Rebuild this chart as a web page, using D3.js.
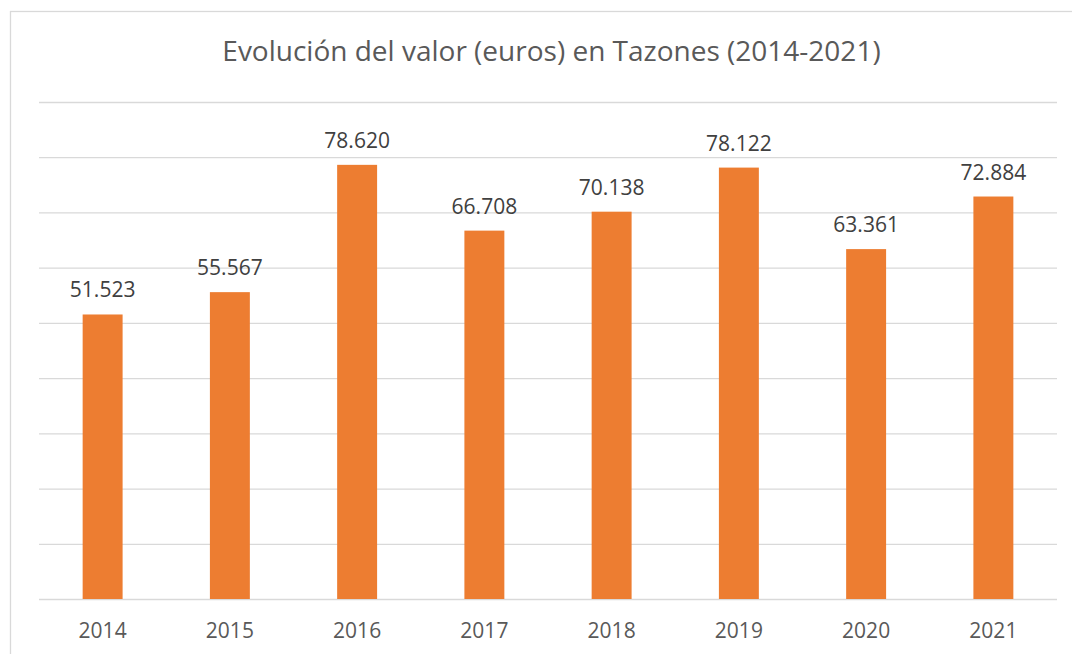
<!DOCTYPE html>
<html>
<head>
<meta charset="utf-8">
<script src="https://cdn.jsdelivr.net/npm/d3@7"></script>
<style>
  body { margin: 0; background: #fff; }
  text { font-family: "Open Sans", sans-serif; }
</style>
</head>
<body>
<div id="chart"></div>
<script>
  // chart data
  var years = ["2014", "2015", "2016", "2017", "2018", "2019", "2020", "2021"];
  var valores = [51523, 55567, 78620, 66708, 70138, 78122, 63361, 72884];
  var yTicks = [0, 10000, 20000, 30000, 40000, 50000, 60000, 70000, 80000, 90000];
  var title = "Evolución del valor (euros) en Tazones (2014-2021)";

  var width = 1072,
      height = 654;

  var margin = {top: 102, right: 15, bottom: 55, left: 39};

  var svg = d3.select("#chart")
              .append("svg")
              .attr("width", width)
              .attr("height", height);

  // outer frame of the chart area
  svg.append("rect")
     .attr("x", 10.5)
     .attr("y", 11.5)
     .attr("width", width + 20)
     .attr("height", height + 20)
     .attr("fill", "none")
     .attr("stroke", "#d9d9d9")
     .attr("stroke-width", 1.3);

  svg.append("text")
     .attr("x", 551.5)
     .attr("y", 61)
     .attr("text-anchor", "middle")
     .attr("font-size", 28)
     .attr("fill", "#595959")
     .text(title);

  var x = d3.scaleBand()
            .domain(years)
            .range([margin.left, width - margin.right])
            .paddingInner(0.686)
            .paddingOuter(0.343);

  var y = d3.scaleLinear()
            .domain([0, 90000])
            .range([height - margin.bottom, margin.top]);

  var es = d3.formatLocale({decimal: ",", thousands: ".", grouping: [3], currency: ["", " €"]});
  var fmt = es.format(",.0f");

  // gridlines
  var grid = svg.append("g")
                .attr("transform", "translate(" + margin.left + ",0)")
                .call(d3.axisLeft(y)
                        .tickValues(yTicks)
                        .tickSize(-(width - margin.right - margin.left))
                        .tickFormat(""));
  grid.select(".domain").remove();
  grid.selectAll(".tick line")
      .attr("stroke", "#d9d9d9")
      .attr("stroke-width", 1.3);

  var bars = svg.selectAll(".bar")
                .data(valores)
                .enter()
                .append("rect")
                .attr("class", "bar")
                .attr("x", function(d, i) { return x(years[i]); })
                .attr("width", x.bandwidth())
                .attr("y", function(d) { return y(d); })
                .attr("height", function(d) { return y(0) - y(d); })
                .attr("fill", "#ed7d31");

  svg.selectAll(".label")
     .data(valores)
     .enter()
     .append("text")
     .attr("class", "label")
     .attr("x", function(d, i) { return x(years[i]) + x.bandwidth() / 2; })
     .attr("y", function(d) { return y(d) - 17; })
     .attr("text-anchor", "middle")
     .attr("font-size", 21)
     .attr("fill", "#404040")
     .text(function(d) { return fmt(d); });

  // x axis labels
  var xAxis = svg.append("g")
                 .attr("transform", "translate(0," + y(0) + ")")
                 .call(d3.axisBottom(x).tickSize(0).tickPadding(0));
  xAxis.select(".domain").remove();
  xAxis.selectAll("text")
       .attr("y", 39)
       .attr("dy", null)
       .attr("font-size", 21)
       .attr("font-family", "Open Sans, sans-serif")
       .attr("fill", "#595959");
</script>
</body>
</html>
